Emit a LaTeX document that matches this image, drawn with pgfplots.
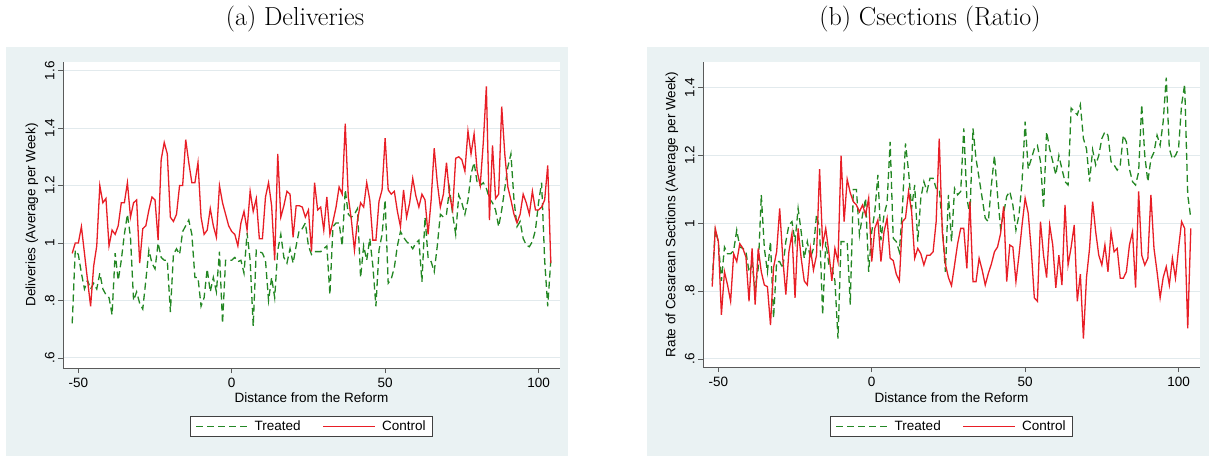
\documentclass[border=0pt]{standalone}
\usepackage{fontspec}
\usepackage{pgfplots}
\usepackage{pgfplotstable}
\pgfplotsset{compat=1.18}
\newfontfamily\arial{Liberation Sans}
\definecolor{bgcol}{RGB}{234,242,243}
\definecolor{gridcol}{RGB}{226,234,237}
\definecolor{trgreen}{RGB}{35,135,35}
\definecolor{ctred}{RGB}{232,30,38}
\definecolor{axcol}{RGB}{90,90,90}

\pgfplotstableread{
w t c
-52 0.72 0.964
-51 0.975 1.0
-50 0.96 1.0
-49 0.895 1.057
-48 0.84 0.964
-47 0.87 0.87
-46 0.84 0.78
-45 0.86 0.92
-44 0.84 0.99
-43 0.895 1.20
-42 0.84 1.14
-41 0.82 1.155
-40 0.81 0.99
-39 0.75 1.045
-38 0.965 1.03
-37 0.87 1.06
-36 0.94 1.14
-35 1.03 1.14
-34 1.10 1.21
-33 1.02 1.09
-32 0.80 1.14
-31 0.83 1.15
-30 0.79 0.93
-29 0.77 1.05
-28 0.87 1.06
-27 0.975 1.115
-26 0.93 1.16
-25 0.91 1.15
-24 1.0 1.01
-23 0.95 1.29
-22 0.94 1.35
-21 0.94 1.31
-20 0.76 1.09
-19 0.96 1.075
-18 0.98 1.10
-17 0.96 1.20
-16 1.04 1.20
-15 1.06 1.36
-14 1.08 1.28
-13 1.03 1.21
-12 0.88 1.21
-11 0.88 1.28
-10 0.78 1.09
-9 0.81 1.03
-8 0.91 1.045
-7 0.83 1.12
-6 0.88 1.06
-5 0.83 1.02
-4 0.97 1.20
-3 0.72 1.14
-2 0.94 1.10
-1 0.94 1.06
0 0.94 1.04
1 0.95 1.03
2 0.935 0.99
3 0.94 1.07
4 0.895 1.11
5 1.035 1.045
6 0.94 1.18
7 0.71 1.11
8 0.975 1.155
9 0.97 1.015
10 0.965 1.015
11 0.94 1.16
12 0.80 1.21
13 0.88 1.13
14 0.81 0.94
15 0.975 1.31
16 1.03 1.09
17 0.95 1.13
18 0.93 1.18
19 0.98 1.17
20 0.93 1.02
21 0.99 1.13
22 1.045 1.13
23 1.05 1.125
24 1.07 1.09
25 0.99 1.115
26 0.96 0.97
27 0.97 1.21
28 0.97 1.115
29 0.97 1.125
30 0.98 1.045
31 0.99 1.16
32 0.82 1.03
33 1.057 1.075
34 1.07 1.125
35 1.07 1.195
36 0.99 1.17
37 1.185 1.415
38 1.10 1.16
39 1.09 1.08
40 1.10 0.975
41 1.12 1.08
42 0.88 1.14
43 0.99 1.125
44 0.94 1.21
45 1.016 1.15
46 0.92 1.01
47 0.78 1.01
48 0.975 1.145
49 1.03 1.185
50 1.15 1.365
51 0.86 1.185
52 0.875 1.17
53 0.915 1.18
54 0.99 1.11
55 1.04 1.057
56 1.02 1.185
57 1.005 1.09
58 0.995 1.14
59 0.98 1.225
60 1.0 1.165
61 1.01 1.125
62 0.865 1.17
63 1.09 1.15
64 0.95 1.03
65 0.935 1.15
66 0.90 1.33
67 0.99 1.21
68 1.10 1.125
69 1.09 1.17
70 1.10 1.28
71 1.19 1.165
72 1.10 1.115
73 1.03 1.295
74 1.167 1.30
75 1.14 1.29
76 1.10 1.25
77 1.15 1.39
78 1.24 1.31
79 1.28 1.38
80 1.21 1.25
81 1.20 1.20
82 1.21 1.35
83 1.19 1.545
84 1.155 1.08
85 1.14 1.34
86 1.115 1.155
87 1.057 1.17
88 1.115 1.475
89 1.19 1.31
90 1.265 1.195
91 1.31 1.15
92 1.15 1.10
93 1.057 1.07
94 1.075 1.10
95 1.016 1.17
96 0.993 1.14
97 0.987 1.10
98 1.005 1.18
99 1.045 1.115
100 1.14 1.115
101 1.21 1.125
102 0.94 1.15
103 0.78 1.27
104 0.94 0.93
}\dataA

\pgfplotstableread{
w t c
-52 0.83 0.813
-51 0.98 0.985
-50 0.946 0.946
-49 0.83 0.73
-48 0.93 0.857
-47 0.91 0.818
-46 0.91 0.77
-45 0.92 0.91
-44 0.98 0.887
-43 0.93 0.94
-42 0.926 0.926
-41 0.916 0.90
-40 0.857 0.77
-39 0.877 0.926
-38 0.81 0.76
-37 0.867 0.926
-36 1.084 0.857
-35 0.926 0.818
-34 0.857 0.813
-33 0.946 0.70
-32 0.72 0.87
-31 0.887 0.916
-30 0.887 1.044
-29 0.867 0.897
-28 0.946 0.79
-27 0.995 0.916
-26 1.005 0.97
-25 0.946 0.78
-24 1.044 0.985
-23 0.975 0.897
-22 0.897 0.83
-21 0.946 0.818
-20 0.897 0.926
-19 0.926 0.862
-18 1.025 0.906
-17 0.985 1.16
-16 0.73 0.936
-15 0.946 0.985
-14 0.88 0.916
-13 0.87 0.83
-12 0.83 0.926
-11 0.66 0.887
-10 0.946 1.2
-9 0.946 1.005
-8 0.946 1.13
-7 0.76 1.09
-6 1.10 1.064
-5 1.10 1.054
-4 0.966 1.034
-3 1.025 1.054
-2 1.074 1.025
-1 0.857 1.074
0 0.975 0.887
1 1.034 0.985
2 1.143 1.01
3 0.95 0.887
4 1.025 0.975
5 1.06 1.015
6 1.24 0.897
7 0.956 0.89
8 0.946 0.85
9 0.916 0.83
10 1.044 1.005
11 1.236 1.015
12 1.153 1.094
13 1.044 1.034
14 1.113 0.897
15 0.946 0.926
16 1.074 0.91
17 1.123 0.877
18 1.094 0.906
19 1.133 0.906
20 1.133 0.916
21 1.103 1.005
22 1.103 1.25
23 0.995 0.975
24 0.857 0.88
25 1.084 0.84
26 0.946 0.816
27 1.103 0.877
28 1.084 0.94
29 1.094 0.985
30 1.28 0.985
31 1.074 0.867
32 1.025 1.064
33 1.28 0.828
34 1.19 0.828
35 1.133 0.897
36 1.074 0.862
37 1.015 0.818
38 1.005 0.852
39 1.113 0.88
40 1.20 0.916
41 1.084 0.93
42 0.985 0.97
43 1.03 1.05
44 1.08 0.828
45 1.094 0.936
46 1.054 0.93
47 0.98 0.828
48 1.025 0.906
49 1.123 0.995
50 1.30 1.074
51 1.16 1.03
52 1.19 0.92
53 1.22 0.78
54 1.23 0.77
55 1.182 1.005
56 1.044 0.906
57 1.27 0.84
58 1.22 0.995
59 1.182 0.936
60 1.143 0.81
61 1.20 0.906
62 1.16 0.818
63 1.123 1.054
64 1.113 0.877
65 1.34 0.93
66 1.33 0.995
67 1.32 0.77
68 1.35 0.85
69 1.25 0.66
70 1.22 0.84
71 1.123 0.926
72 1.217 1.064
73 1.172 0.975
74 1.20 0.906
75 1.25 0.877
76 1.27 0.936
77 1.26 0.857
78 1.182 0.975
79 1.172 0.916
80 1.157 0.926
81 1.172 0.838
82 1.26 0.838
83 1.24 0.857
84 1.16 0.936
85 1.123 0.975
86 1.113 0.81
87 1.152 1.094
88 1.35 0.906
89 1.20 0.877
90 1.123 0.897
91 1.19 1.084
92 1.21 0.926
93 1.26 0.857
94 1.23 0.78
95 1.30 0.84
96 1.43 0.872
97 1.22 0.818
98 1.19 0.897
99 1.20 0.838
100 1.22 0.926
101 1.35 1.005
102 1.41 0.985
103 1.084 0.69
104 1.015 0.985
}\dataB

\pgfplotsset{
  statastyle/.style={
    scale only axis,
    anchor=south west,
    width=497pt,
    xmin=-55, xmax=107,
    axis x line*=bottom,
    axis y line*=left,
    axis line style={axcol, line width=0.7pt},
    tick align=outside,
    major tick length=5pt,
    tick style={axcol, line width=0.7pt},
    xtick={-50,0,50,100},
    xticklabels={-50,0,50,100},
    xticklabel style={font=\arial\fontsize{13.5}{15}\selectfont, yshift=-1.5pt},
    yticklabel style={font=\arial\fontsize{13.5}{15}\selectfont, rotate=90, anchor=south},
    ymajorgrids,
    grid style={gridcol, line width=0.9pt},
    axis background/.style={fill=white},
    xlabel={Distance from the Reform},
    xlabel style={font=\arial\fontsize{13.5}{15}\selectfont, anchor=center},
    ylabel style={font=\arial\fontsize{13.5}{15}\selectfont, at={(axis description cs:-0.0624,0.5)}, anchor=center},
    legend columns=2,
    legend cell align=left,
    legend image code/.code={\draw[#1] (0pt,0pt) -- (52pt,0pt);},
    legend style={draw=black!75, fill=white, line width=0.7pt,
      font=\arial\fontsize{13.5}{15}\selectfont,
      inner xsep=5pt, inner ysep=2.5pt,
      /tikz/every even column/.append style={column sep=20pt},
      /tikz/every odd column/.append style={column sep=4pt}},
    treated/.style={trgreen, line width=1.3pt, dash pattern=on 7pt off 4pt},
    control/.style={ctred, line width=1.3pt},
  }
}

\begin{document}
\begin{tikzpicture}
\path (0pt,0pt) rectangle (1211pt,459pt);
\fill[bgcol] (6pt,3pt) rectangle (568pt,412pt);
\fill[bgcol] (647pt,3pt) rectangle (1209pt,412pt);
\node[font=\fontsize{26}{30}\selectfont] at (295pt,440pt) {(a) Deliveries};
\node[font=\fontsize{26}{30}\selectfont] at (930pt,440pt) {(b) Csections (Ratio)};

\begin{axis}[statastyle,
  at={(63pt,91pt)}, height=306pt,
  ymin=0.565, ymax=1.63,
  ytick={0.6,0.8,1,1.2,1.4,1.6},
  yticklabels={.6,.8,1,1.2,1.4,1.6},
  ylabel={Deliveries (Average per Week)},
  xlabel style={at={(axis description cs:0.5,-0.098)}},
  legend style={at={(axis description cs:0.5,-0.191)}, anchor=center},
]
\addplot[treated] table[x=w,y=t] {\dataA};
\addlegendentry{Treated}
\addplot[control] table[x=w,y=c] {\dataA};
\addlegendentry{Control}
\end{axis}

\begin{axis}[statastyle,
  at={(703pt,92pt)}, height=305pt,
  ymin=0.576, ymax=1.476,
  ytick={0.6,0.8,1,1.2,1.4},
  yticklabels={.6,.8,1,1.2,1.4},
  ylabel={Rate of Cesarean Sections (Average per Week)},
  xlabel style={at={(axis description cs:0.5,-0.1016)}},
  legend style={at={(axis description cs:0.5,-0.195)}, anchor=center},
]
\addplot[treated] table[x=w,y=t] {\dataB};
\addlegendentry{Treated}
\addplot[control] table[x=w,y=c] {\dataB};
\addlegendentry{Control}
\end{axis}
\end{tikzpicture}
\end{document}
